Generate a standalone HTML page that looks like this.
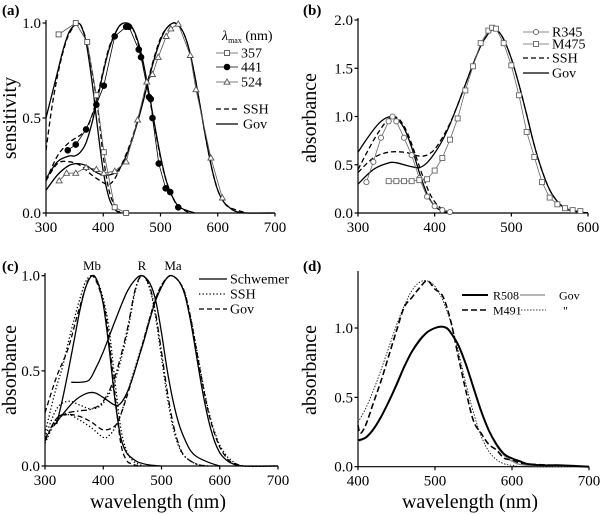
<!DOCTYPE html>
<html><head><meta charset="utf-8"><style>
html,body{margin:0;padding:0;background:#fff;}
svg{display:block;}
svg text{font-family:"Liberation Serif","Times New Roman",serif;}
</style></head><body>
<svg id="fig" width="602" height="514" viewBox="0 0 602 514" xmlns="http://www.w3.org/2000/svg" font-family="Liberation Serif, serif"></svg>
<script>
// ---------- Panel (a) data: [wavelength nm, sensitivity] ----------
const aGov357=[[300,0.5],[310,0.62],[320,0.74],[330,0.86],[340,0.95],[350,0.99],[356,1.0],[362,0.98],[370,0.9],[380,0.7],[390,0.45],[400,0.22],[410,0.08],[420,0.02],[430,0.0]];
const aSSH357=[[300,0.33],[310,0.55],[320,0.72],[330,0.85],[340,0.94],[355,1.0],[365,0.96],[375,0.84],[390,0.56],[400,0.3],[410,0.12],[420,0.04],[430,0.0]];
const aDat357=[[322,0.94],[352,1.0],[372,0.9],[388,0.62],[401,0.32],[420,0.03],[440,0.0]];
const aGov441=[[300,0.18],[320,0.27],[340,0.3],[350,0.3],[360,0.32],[370,0.37],[380,0.47],[390,0.6],[400,0.74],[410,0.86],[420,0.94],[430,0.99],[441,1.0],[450,0.98],[460,0.91],[470,0.79],[480,0.63],[490,0.46],[500,0.3],[510,0.17],[520,0.09],[530,0.04],[540,0.02],[560,0.0]];
const aSSH441=[[300,0.17],[320,0.3],[340,0.37],[360,0.41],[370,0.44],[380,0.51],[390,0.62],[400,0.75],[410,0.87],[420,0.94],[430,0.99],[441,1.0],[450,0.98],[460,0.9],[470,0.78],[480,0.62],[490,0.45],[500,0.29],[510,0.17],[520,0.09],[530,0.04],[550,0.0]];
const aDat441=[[338,0.33],[352,0.36],[370,0.44],[388,0.57],[401,0.67],[420,0.93],[440,0.98],[445,0.98],[462,0.86],[466,0.82],[480,0.61],[483,0.6],[486,0.5],[497,0.26],[509,0.13],[517,0.11],[531,0.03]];
const aGov524=[[300,0.12],[320,0.2],[340,0.25],[355,0.26],[370,0.25],[380,0.23],[390,0.21],[400,0.2],[410,0.2],[420,0.21],[430,0.24],[440,0.3],[450,0.38],[460,0.48],[470,0.59],[480,0.71],[490,0.82],[500,0.91],[510,0.97],[522,1.0],[530,0.99],[540,0.95],[550,0.86],[560,0.72],[570,0.55],[580,0.38],[590,0.23],[600,0.12],[610,0.06],[620,0.03],[630,0.01],[650,0.0],[700,0.0]];
const aSSH524=[[300,0.17],[320,0.26],[340,0.27],[360,0.25],[380,0.2],[400,0.16],[410,0.15],[420,0.18],[430,0.24],[440,0.31],[450,0.39],[460,0.49],[470,0.6],[480,0.72],[490,0.83],[500,0.92],[510,0.97],[522,1.0],[530,0.99],[540,0.95],[550,0.86],[560,0.72],[570,0.55],[580,0.38],[590,0.23],[600,0.12],[610,0.06],[620,0.03],[650,0.0]];
const aDat524=[[323,0.17],[336,0.21],[352,0.21],[370,0.24],[388,0.23],[401,0.21],[420,0.22],[440,0.27],[460,0.49],[476,0.69],[486,0.73],[496,0.82],[510,0.93],[518,0.97],[531,0.995],[552,0.83],[562,0.65],[588,0.29],[608,0.08]];
// ---------- Panel (b) data ----------
const bGovR345=[[300,0.63],[310,0.75],[320,0.86],[330,0.95],[342,1.0],[350,0.98],[360,0.88],[370,0.68],[380,0.42],[390,0.2],[400,0.07],[410,0.02],[420,0.0]];
const bSSHR345=[[300,0.45],[320,0.75],[335,0.93],[345,1.0],[355,0.96],[365,0.82],[375,0.6],[385,0.37],[395,0.18],[405,0.07],[415,0.02],[425,0.0]];
const bGovM475=[[300,0.3],[320,0.45],[340,0.52],[350,0.52],[360,0.5],[370,0.48],[380,0.47],[390,0.52],[400,0.62],[410,0.75],[420,0.92],[430,1.12],[440,1.33],[450,1.54],[460,1.73],[470,1.86],[476,1.9],[482,1.89],[490,1.8],[500,1.6],[510,1.33],[520,1.02],[530,0.7],[540,0.44],[550,0.24],[560,0.12],[570,0.05],[580,0.02],[590,0.01],[600,0.0]];
const bSSHM475=[[300,0.42],[320,0.57],[340,0.63],[360,0.63],[370,0.61],[380,0.59],[390,0.6],[400,0.66],[410,0.78],[420,0.93],[430,1.12],[440,1.33],[450,1.54],[460,1.73],[470,1.86],[476,1.9],[482,1.89],[490,1.8],[500,1.6],[510,1.33],[520,1.02],[530,0.7],[540,0.44],[550,0.24],[560,0.12],[570,0.05],[580,0.02],[600,0.0]];
const bDatR345=[[311,0.32],[320,0.53],[330,0.78],[340,0.95],[345,1.0],[350,0.95],[360,0.78],[370,0.6],[380,0.36],[390,0.17],[400,0.07],[410,0.03],[420,0.01]];
const bDatM475=[[340,0.33],[350,0.33],[360,0.33],[370,0.33],[380,0.34],[390,0.35],[400,0.44],[410,0.57],[420,0.76],[430,0.98],[440,1.27],[450,1.52],[460,1.76],[470,1.89],[475,1.92],[480,1.91],[490,1.76],[500,1.53],[510,1.22],[520,0.84],[530,0.58],[540,0.32],[550,0.16],[560,0.09],[570,0.05],[580,0.03],[590,0.02]];
// ---------- Panel (c) data ----------
const cSchMb=[[320,0.22],[330,0.35],[340,0.5],[350,0.66],[360,0.82],[370,0.94],[381,1.0],[390,0.97],[400,0.85],[410,0.62],[420,0.35],[430,0.15],[440,0.07],[450,0.04],[460,0.02],[480,0.005],[500,0.0]];
const cSchR=[[345,0.44],[360,0.44],[375,0.45],[385,0.5],[400,0.6],[420,0.76],[440,0.91],[455,0.98],[467,1.0],[480,0.96],[490,0.87],[500,0.7],[510,0.5],[520,0.34],[530,0.22],[540,0.14],[550,0.08],[560,0.05],[580,0.02],[600,0.0]];
const cSchMa=[[315,0.21],[330,0.27],[350,0.34],[370,0.38],[385,0.385],[400,0.36],[420,0.32],[430,0.33],[440,0.38],[450,0.46],[460,0.56],[470,0.66],[480,0.77],[490,0.87],[500,0.94],[510,0.99],[518,1.0],[530,0.97],[540,0.9],[550,0.76],[560,0.58],[570,0.4],[580,0.25],[590,0.14],[600,0.07],[610,0.035],[620,0.015],[640,0.0],[700,0.0]];
const cSSHMb=[[300,0.17],[310,0.3],[320,0.42],[330,0.52],[340,0.65],[350,0.77],[360,0.88],[370,0.97],[380,1.0],[390,0.97],[400,0.88],[410,0.72],[420,0.45],[430,0.2],[440,0.08],[450,0.03],[460,0.01],[470,0.0]];
const cGovMb=[[300,0.28],[320,0.47],[340,0.62],[360,0.84],[380,1.0],[400,0.86],[410,0.66],[420,0.38],[430,0.12],[440,0.03],[450,0.01],[460,0.0]];
const cSSHR=[[300,0.15],[320,0.3],[340,0.34],[360,0.32],[380,0.3],[400,0.33],[420,0.45],[440,0.68],[455,0.92],[467,1.0],[480,0.93],[490,0.78],[500,0.57],[510,0.36],[520,0.2],[530,0.1],[540,0.05],[560,0.01],[580,0.0]];
const cGovR=[[300,0.14],[320,0.25],[340,0.28],[360,0.29],[380,0.3],[400,0.34],[420,0.47],[440,0.7],[455,0.93],[467,1.0],[480,0.94],[490,0.8],[500,0.6],[510,0.39],[520,0.22],[530,0.11],[540,0.05],[560,0.01],[580,0.0]];
const cSSHMa=[[300,0.12],[320,0.24],[340,0.27],[360,0.24],[380,0.2],[400,0.15],[410,0.16],[420,0.2],[430,0.27],[440,0.37],[450,0.47],[460,0.57],[470,0.67],[480,0.78],[490,0.88],[500,0.95],[510,0.99],[518,1.0],[530,0.97],[540,0.91],[550,0.78],[560,0.62],[570,0.45],[580,0.3],[590,0.19],[600,0.11],[610,0.06],[620,0.03],[640,0.0],[700,0.0]];
const cGovMa=[[300,0.13],[320,0.25],[340,0.27],[360,0.26],[380,0.23],[400,0.19],[420,0.21],[430,0.27],[440,0.36],[450,0.46],[460,0.56],[470,0.67],[480,0.78],[490,0.88],[500,0.95],[510,0.99],[518,1.0],[530,0.97],[540,0.91],[550,0.78],[560,0.61],[570,0.44],[580,0.29],[590,0.18],[600,0.1],[610,0.05],[620,0.02],[640,0.0]];
// ---------- Panel (d) data ----------
const dR508=[[400,0.19],[410,0.21],[420,0.27],[430,0.36],[440,0.47],[450,0.59],[460,0.72],[470,0.83],[480,0.91],[490,0.97],[500,1.0],[508,1.01],[515,1.0],[520,0.97],[530,0.88],[540,0.74],[550,0.57],[560,0.4],[570,0.26],[580,0.16],[590,0.09],[600,0.06],[610,0.04],[620,0.02],[640,0.01],[660,0.01],[700,0.0]];
const dGovR=[[400,0.18],[410,0.21],[420,0.27],[430,0.36],[440,0.47],[450,0.6],[460,0.72],[470,0.83],[480,0.92],[490,0.97],[500,1.0],[508,1.01],[515,1.0],[520,0.97],[530,0.88],[540,0.74],[550,0.57],[560,0.4],[570,0.26],[580,0.15],[590,0.08],[600,0.04],[620,0.01],[700,0.0]];
const dM491=[[400,0.3],[403,0.24],[410,0.3],[420,0.46],[430,0.62],[440,0.8],[450,0.98],[460,1.15],[470,1.22],[480,1.29],[490,1.34],[500,1.28],[510,1.23],[520,1.06],[530,0.8],[540,0.55],[550,0.33],[560,0.24],[570,0.16],[580,0.12],[590,0.06],[600,0.05],[620,0.02],[700,0.0]];
const dGovM=[[400,0.32],[410,0.42],[420,0.55],[430,0.7],[440,0.86],[450,1.02],[460,1.16],[470,1.27],[480,1.33],[490,1.34],[500,1.3],[510,1.2],[520,1.05],[530,0.84],[540,0.6],[550,0.39],[560,0.22],[570,0.11],[580,0.05],[590,0.02],[600,0.01],[620,0.0],[700,0.0]];
// ---------- tick labels ----------
const aXTicks=[300,400,500,600,700], aYTicks=[0,0.5,1.0];
const bXTicks=[300,400,500,600], bYTicks=[0,0.5,1.0,1.5,2.0];
const cXTicks=[300,400,500,600,700], cYTicks=[0,0.5,1.0];
const dXTicks=[400,500,600,700], dYTicks=[0,0.5,1.0];

const NS="http://www.w3.org/2000/svg";
const FONT='"Liberation Serif", serif';
const svg=document.getElementById('fig');
function mk(tag,attrs,parent){const e=document.createElementNS(NS,tag);for(const k in attrs)e.setAttribute(k,attrs[k]);(parent||svg).appendChild(e);return e;}
function txt(s,x,y,size,anchor,parent,extra){const t=mk('text',Object.assign({x:x,y:y,'font-size':size,'text-anchor':anchor||'start',fill:'#000'},extra||{}),parent);t.style.fontFamily=FONT;t.textContent=s;return t;}

function makeAxes(cfg){
  const sx=v=>cfg.px0+(v-cfg.x0)/(cfg.x1-cfg.x0)*(cfg.px1-cfg.px0);
  const sy=v=>cfg.py0-(v-cfg.y0)/(cfg.y1-cfg.y0)*(cfg.py0-cfg.py1);
  return {sx,sy};
}
function smoothPath(pts,ax){
  const p=pts.map(d=>[ax.sx(d[0]),ax.sy(d[1])]);
  let s='M'+p[0][0].toFixed(2)+','+p[0][1].toFixed(2);
  for(let i=0;i<p.length-1;i++){
    const p0=p[i-1]||p[i],p1=p[i],p2=p[i+1],p3=p[i+2]||p2;
    const c1=[p1[0]+(p2[0]-p0[0])/6,p1[1]+(p2[1]-p0[1])/6];
    const c2=[p2[0]-(p3[0]-p1[0])/6,p2[1]-(p3[1]-p1[1])/6];
    s+='C'+c1[0].toFixed(2)+','+c1[1].toFixed(2)+' '+c2[0].toFixed(2)+','+c2[1].toFixed(2)+' '+p2[0].toFixed(2)+','+p2[1].toFixed(2);
  }
  return s;
}
function linePath(pts,ax){return pts.map((d,i)=>(i?'L':'M')+ax.sx(d[0]).toFixed(2)+','+ax.sy(d[1]).toFixed(2)).join('');}
function curve(g,pts,ax,style,name){
  const e=mk('path',Object.assign({d:smoothPath(pts,ax),fill:'none',stroke:'#000','stroke-width':1.3},style),g);
  
  
  return e;
}
function marker(g,type,x,y,color){
  let e;
  if(type==='sq') e=mk('rect',{x:x-2.5,y:y-2.5,width:5,height:5,fill:'#fff',stroke:color,'stroke-width':0.9},g);
  else if(type==='dot') e=mk('circle',{cx:x,cy:y,r:2.8,fill:'#000',stroke:'#000'},g);
  else if(type==='circ') e=mk('circle',{cx:x,cy:y,r:2.6,fill:'#fff',stroke:color,'stroke-width':0.9},g);
  else e=mk('path',{d:`M${x},${y-3}L${x+3},${y+2.2}L${x-3},${y+2.2}Z`,fill:'#fff',stroke:color,'stroke-width':0.9},g);
  return e;
}
function dataSeries(g,pts,ax,type,color,name){
  const s=mk('g',{},g);
  
  
  const l=mk('path',{d:linePath(pts,ax),fill:'none',stroke:color,'stroke-width':0.8},s);
  
  
  pts.forEach(d=>{
    const m=marker(s,type,ax.sx(d[0]),ax.sy(d[1]),color);
    
    
  });
}
function drawAxes(g,cfg,ax,xt,yt,yfmt,topY){
  const axg=mk('g',{stroke:'#000','stroke-width':1.2,fill:'none'},g);
  
  
  mk('path',{d:`M${cfg.px0},${topY}V${cfg.py0}H${cfg.px1}`},axg);
  xt.forEach(v=>{
    const x=ax.sx(v);
    mk('line',{x1:x,y1:cfg.py0,x2:x,y2:cfg.py0+3.5},axg);
    const t=txt(String(v),x,cfg.py0+19,15,'middle',g);
    
    
  });
  yt.forEach(v=>{
    const y=ax.sy(v);
    mk('line',{x1:cfg.px0,y1:y,x2:cfg.px0-3.5,y2:y},axg);
    const t=txt(v.toFixed(1),cfg.px0-5,y+5,15,'end',g);
    
    
  });
}
function ytitle(g,s,x,y){const t=txt(s,x,y,20,'middle',g,{transform:`rotate(-90 ${x} ${y})`});}
function xtitle(g,s,x,y){const t=txt(s,x,y,20,'middle',g);}
function plabel(g,s,x,y){const t=txt(s,x,y,15,'start',g,{'font-weight':'bold'});}
function group(name){const g=mk('g',{});return g;}
function legLine(g,x1,x2,y,style,name){const l=mk('line',Object.assign({x1:x1,x2:x2,y1:y,y2:y,stroke:'#000','stroke-width':1.3},style),g);return l;}
function legText(g,s,x,y,size){const t=txt(s,x,y+4.5,size||14,'start',g);return t;}

const DASH={'stroke-dasharray':'5,3'};
const DOT={'stroke-dasharray':'1.3,2.2'};
const DASHDOT={'stroke-dasharray':'6,2.5,1.5,2.5'};

// ===== Panel a =====
(function(){
  const g=group('panel-a');
  const cfg={x0:300,x1:700,px0:46,px1:275,y0:0,y1:1,py0:213,py1:23};
  const ax=makeAxes(cfg);
  drawAxes(g,cfg,ax,aXTicks,aYTicks,null,20);
  curve(g,aGov357,ax,{},'gov-357');curve(g,aSSH357,ax,DASH,'ssh-357');
  curve(g,aGov441,ax,{},'gov-441');curve(g,aSSH441,ax,DASH,'ssh-441');
  curve(g,aGov524,ax,{},'gov-524');curve(g,aSSH524,ax,DASH,'ssh-524');
  dataSeries(g,aDat357,ax,'sq','#555','data-357');
  dataSeries(g,aDat441,ax,'dot','#000','data-441');
  dataSeries(g,aDat524,ax,'tri','#555','data-524');
  plabel(g,'(a)',2,15);
  ytitle(g,'sensitivity',16,118);
  const lg=group('legend-a');g.appendChild(lg);
  const h=txt('',222,40,14,'start',lg);
  const t1=mk('tspan',{'font-style':'italic'},h);t1.textContent='λ';
  const t2=mk('tspan',{'font-size':8,dy:3},h);t2.textContent='max';
  const t3=mk('tspan',{dy:-3},h);t3.textContent=' (nm)';
  
  [[53,'sq','#555','357'],[67,'dot','#000','441'],[82,'tri','#555','524']].forEach(r=>{
    legLine(lg,216,238,r[0],{'stroke-width':0.8,stroke:r[2]},'legend-line');
    const m=marker(lg,r[1],227,r[0],r[2]);
    legText(lg,r[3],241,r[0]);
  });
  legLine(lg,216,238,109,DASH,'legend-ssh');legText(lg,'SSH',243,109);
  legLine(lg,216,238,124,{},'legend-gov');legText(lg,'Gov',243,124);
})();
// ===== Panel b =====
(function(){
  const g=group('panel-b');
  const cfg={x0:300,x1:600,px0:358,px1:588,y0:0,y1:2,py0:213,py1:20};
  const ax=makeAxes(cfg);
  drawAxes(g,cfg,ax,bXTicks,bYTicks,null,18);
  curve(g,bGovR345,ax,{},'gov-r345');curve(g,bSSHR345,ax,DASH,'ssh-r345');
  curve(g,bGovM475,ax,{},'gov-m475');curve(g,bSSHM475,ax,DASH,'ssh-m475');
  dataSeries(g,bDatR345,ax,'circ','#666','data-r345');
  dataSeries(g,bDatM475,ax,'sq','#666','data-m475');
  plabel(g,'(b)',303,15);
  ytitle(g,'absorbance',316,118);
  const lg=group('legend-b');g.appendChild(lg);
  legLine(lg,523,549,32,{'stroke-width':0.8,stroke:'#666'},'legend-line');
  let m=marker(lg,'circ',536,32,'#666');
  legText(lg,'R345',552,32);
  legLine(lg,523,549,44,{'stroke-width':0.8,stroke:'#666'},'legend-line');
  m=marker(lg,'sq',536,44,'#666');
  legText(lg,'M475',552,44);
  legLine(lg,523,549,58,DASH,'legend-ssh');legText(lg,'SSH',552,58);
  legLine(lg,523,549,73,{},'legend-gov');legText(lg,'Gov',552,73);
})();
// ===== Panel c =====
(function(){
  const g=group('panel-c');
  const cfg={x0:300,x1:700,px0:45,px1:278,y0:0,y1:1,py0:466,py1:275.7};
  const ax=makeAxes(cfg);
  drawAxes(g,cfg,ax,cXTicks,cYTicks,null,273);
  curve(g,cSchMb,ax,{},'schwemer-mb');curve(g,cSchR,ax,{},'schwemer-r');curve(g,cSchMa,ax,{},'schwemer-ma');
  curve(g,cSSHMb,ax,DOT,'ssh-mb');curve(g,cSSHR,ax,DOT,'ssh-r');curve(g,cSSHMa,ax,DOT,'ssh-ma');
  curve(g,cGovMb,ax,DASH,'gov-mb');curve(g,cGovR,ax,DASHDOT,'gov-r');curve(g,cGovMa,ax,DASH,'gov-ma');
  plabel(g,'(c)',2,271);
  ytitle(g,'absorbance',16,370);
  xtitle(g,'wavelength (nm)',158,508);
  [['Mb',92],['R',142],['Ma',173]].forEach(p=>{const t=txt(p[0],p[1],270,13,'middle',g);});
  const lg=group('legend-c');g.appendChild(lg);
  legLine(lg,199,227,279,{},'legend-schwemer');legText(lg,'Schwemer',230,279);
  legLine(lg,199,227,294,DOT,'legend-ssh');legText(lg,'SSH',230,294);
  legLine(lg,199,227,309,DASH,'legend-gov');legText(lg,'Gov',230,309);
})();
// ===== Panel d =====
(function(){
  const g=group('panel-d');
  const cfg={x0:400,x1:700,px0:358,px1:589,y0:0,y1:1,py0:466.7,py1:328};
  const ax=makeAxes(cfg);
  drawAxes(g,cfg,ax,dXTicks,dYTicks,null,271);
  curve(g,dGovR,ax,{stroke:'#888','stroke-width':1.3},'gov-r508');
  curve(g,dR508,ax,{'stroke-width':2},'r508');
  curve(g,dGovM,ax,{'stroke-dasharray':'1.5,1.5','stroke-width':0.8},'gov-m491');
  curve(g,dM491,ax,{'stroke-dasharray':'6,3','stroke-width':1.6},'m491');
  plabel(g,'(d)',303,271);
  ytitle(g,'absorbance',316,370);
  xtitle(g,'wavelength (nm)',470,508);
  const lg=group('legend-d');g.appendChild(lg);
  legLine(lg,462,488,295,{'stroke-width':2},'legend-r508');legText(lg,'R508',493,295,12);
  legLine(lg,520,545,295,{stroke:'#888'},'legend-gov');legText(lg,'Gov',559,295,12);
  legLine(lg,462,488,310,{'stroke-dasharray':'6,3','stroke-width':1.6},'legend-m491');legText(lg,'M491',493,310,12);
  legLine(lg,518,546,310,{'stroke-dasharray':'1.5,1.5','stroke-width':0.8},'legend-gov-m');legText(lg,'"',563,310,12);
})();
</script>
</body></html>
